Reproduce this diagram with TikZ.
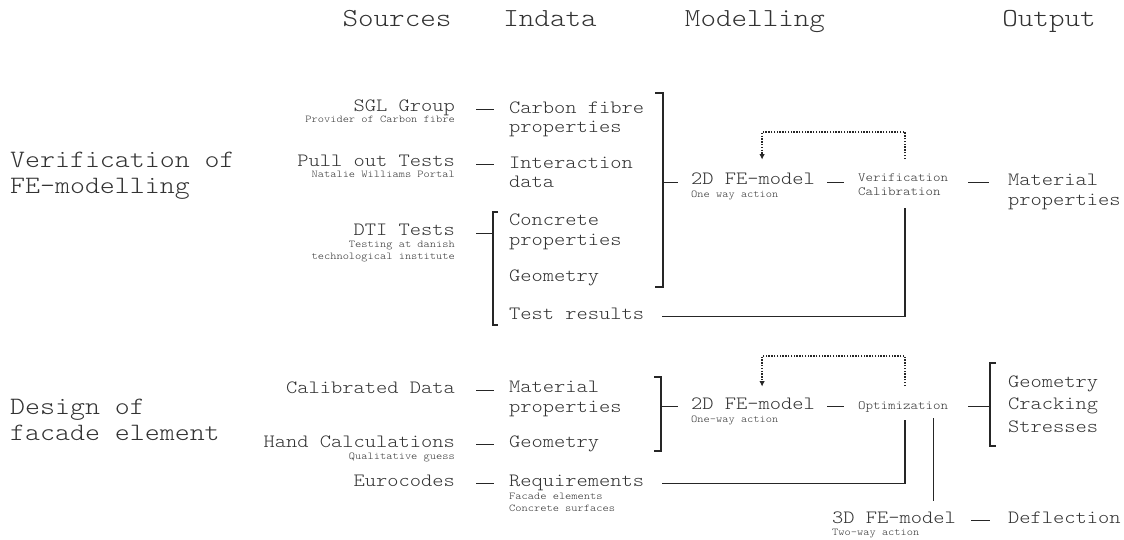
\documentclass[tikz,border=0pt]{standalone}
\usepackage{fontspec}
\setmainfont{lmmonolt10-regular.otf}[FakeStretch=1.14]
\usetikzlibrary{arrows.meta,calc}

\begin{document}
\begin{tikzpicture}[
    x=1pt, y=-1pt,
    >={Latex[length=5.5pt,width=5.5pt]},
    every node/.style={inner sep=0pt, text=black!80},
    head/.style={anchor=base, font=\fontsize{26}{28}\selectfont},
    group/.style={anchor=base west, align=left, font=\fontsize{25}{26}\selectfont},
    source/.style={anchor=base east, font=\fontsize{18.8}{20}\selectfont},
    item/.style={anchor=base west, align=left, font=\fontsize{18.8}{19.8}\selectfont},
    task/.style={anchor=base west, align=left, font=\fontsize{12.5}{14}\selectfont},
    note/.style={font=\fontsize{10.4}{12}\selectfont},
    link/.style={draw=black!85, line width=1.3pt},
    feedback/.style={link, dash pattern=on 1.4pt off 1.4pt, ->}
]
    \useasboundingbox (0,0) rectangle (1124,540);

    % column heads
    \node[head] (h-src) at (397,27) {Sources};
    \node[head] (h-in)  at (550,27) {Indata};
    \node[head] (h-mod) at (755,27) {Modelling};
    \node[head] (h-out) at (1049,27) {Output};

    % rows
    \node[group] (g-ver) at (10,194) {Verification of\\FE-modelling};
    \node[group] (g-des) at (10,440) {Design of\\facade element};

    % sources
    \node[source] (sgl) at (455,112) {SGL Group};
    \node[note, anchor=base east] (sgl-n) at (455,123) {Provider of Carbon fibre};
    \node[source] (pull) at (455,167) {Pull out Tests};
    \node[note, anchor=base east] (pull-n) at (455,178) {Natalie Williams Portal};
    \node[source] (dti) at (455,236) {DTI Tests};
    \node[note, anchor=base east, align=right] (dti-n) at (455,259) {Testing at danish\\technological institute};
    \node[source] (calib) at (455,393) {Calibrated Data};
    \node[source] (hand) at (455,447) {Hand Calculations};
    \node[note, anchor=base east] (hand-n) at (455,459) {Qualitative guess};
    \node[source] (euro) at (455,486) {Eurocodes};

    % indata
    \node[item] (cfp)   at (509,133) {Carbon fibre\\properties};
    \node[item] (inter) at (509,188) {Interaction\\data};
    \node[item] (conc)  at (509,245) {Concrete\\properties};
    \node[item] (geo)   at (509,281) {Geometry};
    \node[item] (test)  at (509,319) {Test results};
    \node[item] (mat)   at (509,412) {Material\\properties};
    \node[item] (geo-b) at (509,447) {Geometry};
    \node[item] (req)   at (509,486) {Requirements};
    \node[note, anchor=base west, align=left] (req-n) at (509,511) {Facade elements\\Concrete surfaces};

    % modelling
    \node[item] (fe2d) at (691,185) {2D FE-model};
    \node[note, anchor=base west] (fe2d-n) at (691,197) {One way action};
    \node[task] (verif) at (858,196) {Verification\\Calibration};
    \node[item] (fe2d-b) at (691,409) {2D FE-model};
    \node[note, anchor=base west] (fe2d-b-n) at (691,422) {One-way action};
    \node[task] (opt) at (858,409) {Optimization};
    \node[item] (fe3d) at (832,523) {3D FE-model};
    \node[note, anchor=base west] (fe3d-n) at (832,535) {Two-way action};

    % output
    \node[item] (o-mat) at (1008,205) {Material\\properties};
    \node[item, font=\fontsize{18.8}{22.5}\selectfont] (o-geo) at (1008,432) {Geometry\\Cracking\\Stresses};
    \node[item] (o-defl) at (1008,523) {Deflection};

    % sources -> indata
    \foreach \a/\b in {sgl/cfp, pull/inter, calib/mat, hand/geo-b, euro/req}
      \draw[link, shorten <=21pt, shorten >=15pt] (\a.mid east) -- (\a.mid east -| \b.west);

    % DTI bracket
    \coordinate (dti-top) at (493,212);
    \coordinate (dti-bot) at (493,325);
    \draw[link] ([xshift=5pt]dti-top) -- (dti-top) -- (dti-bot) -- ([xshift=5pt]dti-bot);
    \draw[link, shorten <=21pt] (dti.mid east) -- (dti.mid east -| dti-top);

    % upper model
    \coordinate (in-top) at (663,93);
    \coordinate (in-bot) at (663,287);
    \draw[link] ([xshift=-8pt]in-top) -- (in-top) -- (in-bot) -- ([xshift=-8pt]in-bot);
    \draw[link, shorten >=13pt] (fe2d.mid west -| in-top) -- (fe2d.mid west);
    \draw[link, shorten <=12pt, shorten >=14pt] (fe2d.mid east) -- (fe2d.mid east -| verif.west);
    \draw[link, shorten <=20pt, shorten >=19pt] (fe2d.mid east -| verif.east) -- (fe2d.mid east -| o-mat.west);
    \draw[feedback] ([xshift=2pt,yshift=15pt]verif.north) -- ++(0,-27) -| ([xshift=9pt,yshift=13.5pt]fe2d.north);
    \draw[link] ([xshift=18pt]test.mid east) -| ([xshift=2pt,yshift=-12pt]verif.south);

    % lower model
    \coordinate (in2-top) at (661,377);
    \coordinate (in2-bot) at (661,451);
    \draw[link] ([xshift=-7pt]in2-top) -- (in2-top) -- (in2-bot) -- ([xshift=-7pt]in2-bot);
    \draw[link, shorten >=13pt] (fe2d-b.mid west -| in2-top) -- (fe2d-b.mid west);
    \draw[link, shorten <=12pt, shorten >=14pt] (fe2d-b.mid east) -- (fe2d-b.mid east -| opt.west);
    \coordinate (out-top) at (990,363);
    \coordinate (out-bot) at (990,446);
    \draw[link] ([xshift=6pt]out-top) -- (out-top) -- (out-bot) -- ([xshift=6pt]out-bot);
    \draw[link, shorten <=20pt] (opt.mid east) -- (opt.mid east -| out-top);
    \draw[feedback] ([xshift=2pt,yshift=15pt]opt.north) -- ++(0,-30) -| ([xshift=9pt,yshift=10.5pt]fe2d-b.north);
    \draw[link] ([xshift=18pt]req.mid east) -| ([xshift=2pt,yshift=-7.5pt]opt.south);
    \draw[link] ($(opt.south east)+(-15,6)$) -- ($(opt.south east |- fe3d.north)+(-15,-10)$);
    \draw[link, shorten <=15pt, shorten >=18pt] (fe3d.mid east) -- (fe3d.mid east -| o-defl.west);
\end{tikzpicture}
\end{document}
